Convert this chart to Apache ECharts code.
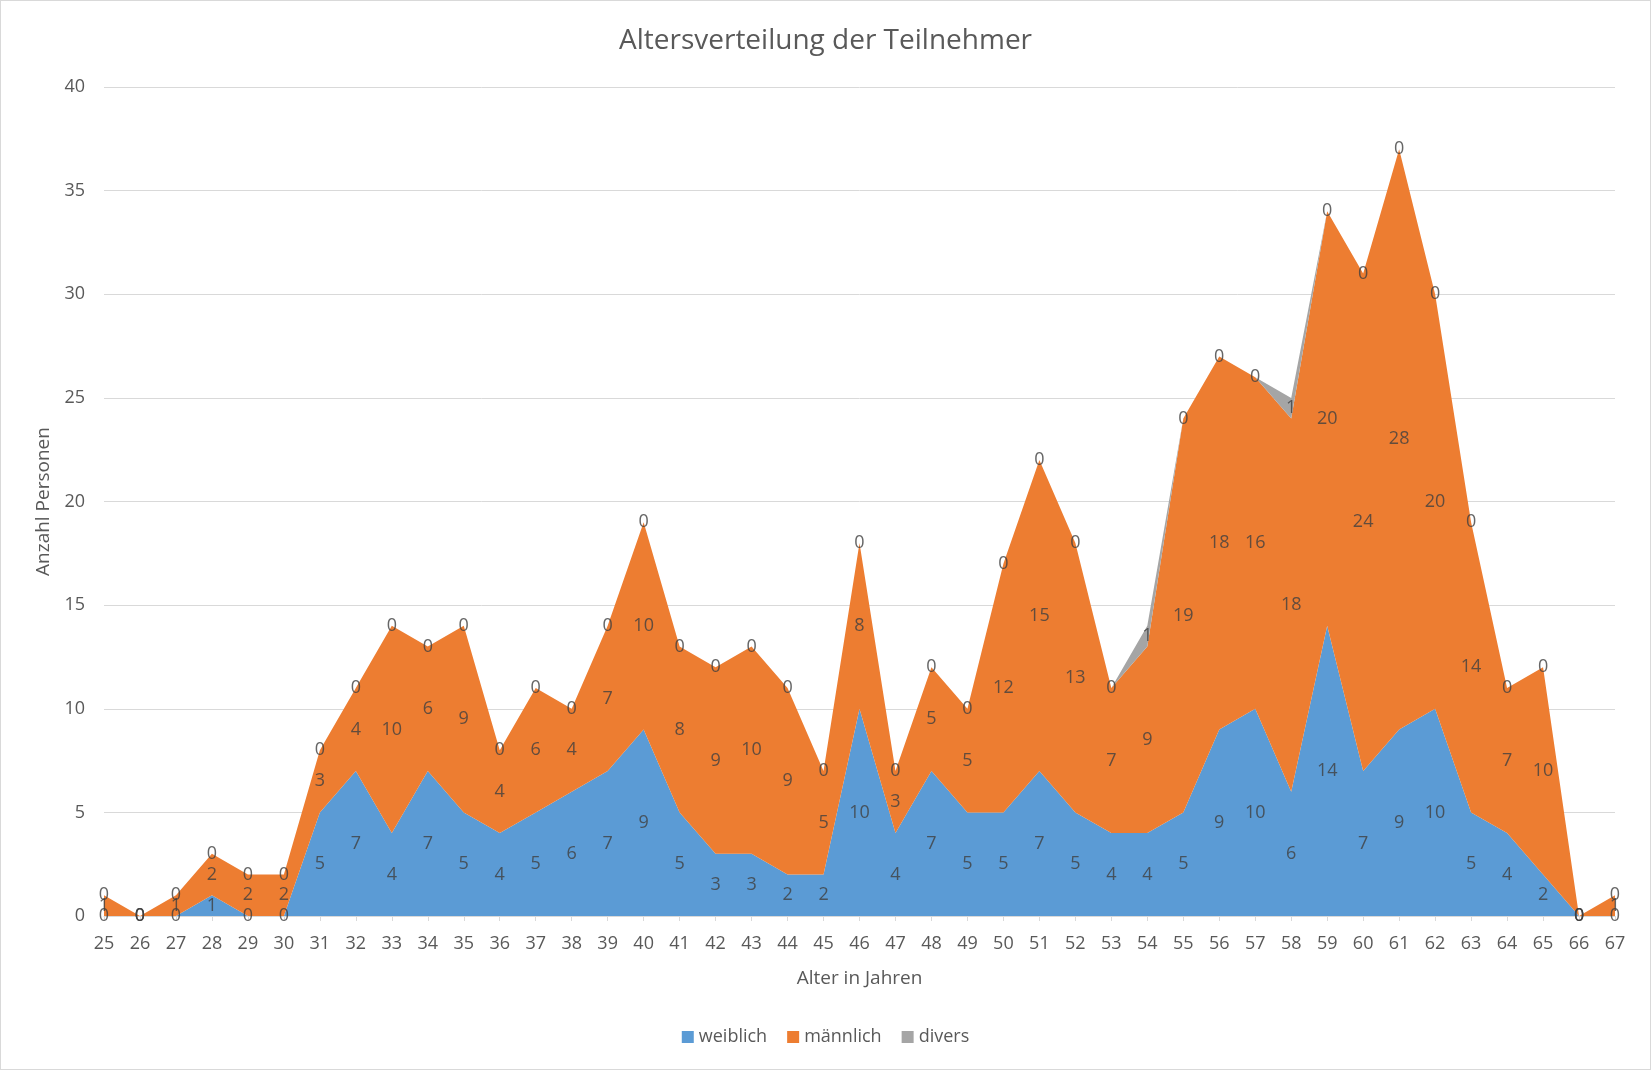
<!DOCTYPE html>
<html>
<head>
<meta charset="utf-8">
<script src="https://cdn.jsdelivr.net/npm/echarts@6/dist/echarts.min.js"></script>
<style>
html, body { margin: 0; padding: 0; background: #fff; }
#chart { width: 1651px; height: 1070px; box-sizing: border-box; border: 1px solid #d9d9d9; }
</style>
</head>
<body>
<div id="chart"></div>
<script>
const categories = ['25','26','27','28','29','30','31','32','33','34','35','36','37','38','39','40','41','42','43','44','45','46','47','48','49','50','51','52','53','54','55','56','57','58','59','60','61','62','63','64','65','66','67'];
const weiblich = [0,0,0,1,0,0,5,7,4,7,5,4,5,6,7,9,5,3,3,2,2,10,4,7,5,5,7,5,4,4,5,9,10,6,14,7,9,10,5,4,2,0,0];
const maennlich = [1,0,1,2,2,2,3,4,10,6,9,4,6,4,7,10,8,9,10,9,5,8,3,5,5,12,15,13,7,9,19,18,16,18,20,24,28,20,14,7,10,0,1];
const divers = [0,0,0,0,0,0,0,0,0,0,0,0,0,0,0,0,0,0,0,0,0,0,0,0,0,0,0,0,0,1,0,0,0,1,0,0,0,0,0,0,0,0,0];
const yTicks = [0,5,10,15,20,25,30,35,40];
const seriesNames = ['weiblich','männlich','divers'];
const colors = ['#5B9BD5','#ED7D31','#A5A5A5'];
</script>
<script>
const FONT = 'Open Sans';
const allValues = [weiblich, maennlich, divers];
const chart = echarts.init(document.getElementById('chart'), null, {renderer: 'canvas'});

const series = [];
allValues.forEach((vals, s) => {
  series.push({
    name: seriesNames[s],
    type: 'line',
    stack: 'total',
    data: vals,
    symbol: 'none',
    lineStyle: { width: 0 },
    areaStyle: { color: colors[s], opacity: 1 },
    itemStyle: { color: colors[s] },
    emphasis: { disabled: true },
    z: 2
  });
});
// data labels at the middle of each stacked band
allValues.forEach((vals, s) => {
  const pts = vals.map((v, i) => {
    let base = 0;
    for (let k = 0; k < s; k++) base += allValues[k][i];
    return { value: [i, base + v / 2], label: { formatter: String(v) } };
  });
  series.push({
    name: seriesNames[s] + '_labels',
    type: 'scatter',
    data: pts,
    symbolSize: 0,
    silent: true,
    label: {
      show: true,
      position: 'inside',
      color: '#404040',
      fontFamily: FONT,
      fontSize: 18
    },
    z: 5
  });
});

chart.setOption({
  animation: false,
  color: colors,
  title: {
    text: 'Altersverteilung der Teilnehmer',
    left: 'center',
    top: 26,
    padding: 0,
    textStyle: { color: '#595959', fontFamily: FONT, fontSize: 28, fontWeight: 'normal' }
  },
  legend: {
    data: seriesNames,
    bottom: 18,
    left: 'center',
    icon: 'rect',
    itemWidth: 12,
    itemHeight: 12,
    itemGap: 20,
    textStyle: { color: '#595959', fontFamily: FONT, fontSize: 18 }
  },
  grid: { left: 103, right: 35, top: 86, bottom: 153, containLabel: false },
  xAxis: {
    type: 'category',
    data: categories,
    boundaryGap: false,
    name: 'Alter in Jahren',
    nameLocation: 'middle',
    nameGap: 53,
    nameTextStyle: { color: '#595959', fontFamily: FONT, fontSize: 19 },
    axisLine: { lineStyle: { color: '#d9d9d9', width: 1 } },
    axisTick: { show: true, length: 5, interval: 0, lineStyle: { color: '#d9d9d9' } },
    axisLabel: { interval: 0, color: '#595959', fontFamily: FONT, fontSize: 18, margin: 19 },
    splitLine: { show: false }
  },
  yAxis: {
    type: 'value',
    min: yTicks[0],
    max: yTicks[yTicks.length - 1],
    interval: yTicks[1] - yTicks[0],
    name: 'Anzahl Personen',
    nameLocation: 'middle',
    nameRotate: 90,
    nameGap: 49,
    nameTextStyle: { color: '#595959', fontFamily: FONT, fontSize: 19 },
    axisLine: { show: false },
    axisTick: { show: false },
    axisLabel: { color: '#595959', fontFamily: FONT, fontSize: 18, margin: 19 },
    splitLine: { lineStyle: { color: '#d9d9d9', width: 1 } }
  },
  series: series
});
</script>
</body>
</html>
